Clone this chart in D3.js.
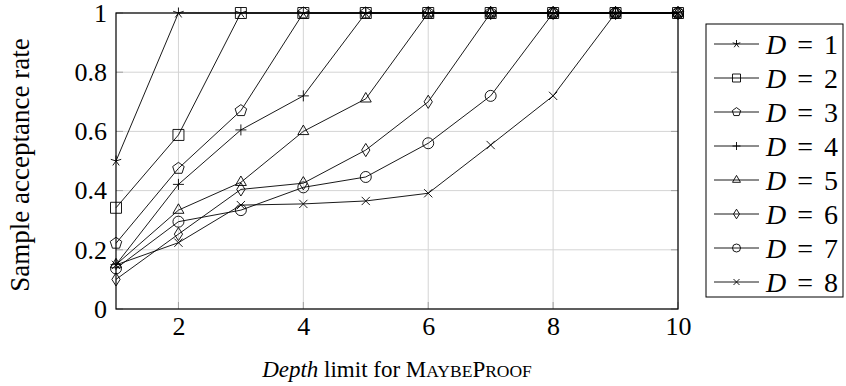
<!DOCTYPE html>
<html><head><meta charset="utf-8">
<script src="https://d3js.org/d3.v7.min.js"></script>
<style>body{margin:0;background:#fff}svg{display:block}</style>
</head><body>
<svg id="c" width="846" height="386"></svg>
<script>
const depthLimits = [1,2,3,4,5,6,7,8,9,10];
const seriesNames = ["D = 1","D = 2","D = 3","D = 4","D = 5","D = 6","D = 7","D = 8"];
const markers = ["star","square","pentagon","plus","triangle","diamond","circle","cross"];
const d1 = [0.50,1,1,1,1,1,1,1,1,1];
const d2 = [0.342,0.588,1,1,1,1,1,1,1,1];
const d3v = [0.222,0.475,0.67,1,1,1,1,1,1,1];
const d4 = [0.150,0.421,0.605,0.72,1,1,1,1,1,1];
const d5 = [0.150,0.334,0.428,0.60,0.71,1,1,1,1,1];
const d6 = [0.100,0.253,0.404,0.425,0.537,0.70,1,1,1,1];
const d7 = [0.137,0.295,0.334,0.411,0.446,0.56,0.72,1,1,1];
const d8 = [0.149,0.224,0.351,0.355,0.365,0.391,0.554,0.72,1,1];
const seriesValues = [d1,d2,d3v,d4,d5,d6,d7,d8];
const xTicks = [2,4,6,8,10];
const yTicks = [0,0.2,0.4,0.6,0.8,1];
const yTickLabels = ["0","0.2","0.4","0.6","0.8","1"];

const FONT = '"Liberation Serif"';
const svg = d3.select("#c");
const L=116, R=678, T=13, B=309;
const x = d3.scaleLinear().domain([1,10]).range([L,R]);
const y = d3.scaleLinear().domain([0,1]).range([B,T]);

// grid
const g = svg.append("g");
g.selectAll(".gx").data(xTicks).enter().append("line")
  .attr("x1",d=>x(d)).attr("x2",d=>x(d)).attr("y1",T).attr("y2",B)
  .attr("stroke","#d4d4d4").attr("stroke-width",1);
g.selectAll(".gy").data(yTicks).enter().append("line")
  .attr("y1",d=>y(d)).attr("y2",d=>y(d)).attr("x1",L).attr("x2",R)
  .attr("stroke","#d4d4d4").attr("stroke-width",1);

// ticks inside (gray)
g.selectAll(".tx").data(xTicks).enter().append("line")
  .attr("x1",d=>x(d)).attr("x2",d=>x(d)).attr("y1",B).attr("y2",B-7)
  .attr("stroke","#a0a0a0").attr("stroke-width",1);
g.selectAll(".ty").data(yTicks).enter().append("line")
  .attr("y1",d=>y(d)).attr("y2",d=>y(d)).attr("x1",L).attr("x2",L+7)
  .attr("stroke","#a0a0a0").attr("stroke-width",1);
g.selectAll(".ty2").data(yTicks).enter().append("line")
  .attr("y1",d=>y(d)).attr("y2",d=>y(d)).attr("x1",R).attr("x2",R-7)
  .attr("stroke","#a0a0a0").attr("stroke-width",1);

// axes via d3 axis (labels only)
const xAxis = d3.axisBottom(x).tickValues(xTicks).tickSize(0).tickPadding(8).tickFormat(d=>String(d));
const yAxis = d3.axisLeft(y).tickValues(yTicks).tickSize(0).tickPadding(9).tickFormat((d,i)=>yTickLabels[i]);
const ax = svg.append("g").attr("transform",`translate(0,${B})`).call(xAxis);
const ay = svg.append("g").attr("transform",`translate(${L},0)`).call(yAxis);
[ax,ay].forEach(a=>{a.select(".domain").remove(); a.attr("font-family",null).attr("font-size",null);
  a.selectAll("text").style("font-family",FONT).style("font-size","26px").attr("fill","#000");});

// box
svg.append("rect").attr("x",L).attr("y",T).attr("width",R-L).attr("height",B-T)
  .attr("fill","none").attr("stroke","#000").attr("stroke-width",1.2);

// marker paths
function markerPath(type, r){
  const p = d3.path();
  if(type==="star"){
    for(let k=0;k<5;k++){const a=-Math.PI/2+k*2*Math.PI/5; p.moveTo(0,0); p.lineTo(r*Math.cos(a), r*Math.sin(a));}
  } else if(type==="square"){
    p.rect(-r,-r,2*r,2*r);
  } else if(type==="pentagon"){
    for(let k=0;k<5;k++){const a=-Math.PI/2+k*2*Math.PI/5; const px=r*1.1*Math.cos(a), py=r*1.1*Math.sin(a); if(k===0)p.moveTo(px,py); else p.lineTo(px,py);} p.closePath();
  } else if(type==="plus"){
    p.moveTo(-r,0);p.lineTo(r,0);p.moveTo(0,-r);p.lineTo(0,r);
  } else if(type==="triangle"){
    const rr=r*1.15;
    p.moveTo(0,-rr); p.lineTo(rr*0.866,rr*0.5); p.lineTo(-rr*0.866,rr*0.5); p.closePath();
  } else if(type==="diamond"){
    p.moveTo(0,-r*1.2);p.lineTo(r*0.75,0);p.lineTo(0,r*1.2);p.lineTo(-r*0.75,0);p.closePath();
  } else if(type==="circle"){
    p.arc(0,0,r,0,2*Math.PI);
  } else if(type==="cross"){
    const q=r*0.75; p.moveTo(-q,-q);p.lineTo(q,q);p.moveTo(-q,q);p.lineTo(q,-q);
  }
  return p.toString();
}

const line = d3.line().x((d,i)=>x(depthLimits[i])).y(d=>y(d));
seriesValues.forEach((vals,si)=>{
  svg.append("path").attr("d",line(vals)).attr("fill","none").attr("stroke","#000").attr("stroke-width",0.9);
});
seriesValues.forEach((vals,si)=>{
  svg.append("g").selectAll("path").data(vals).enter().append("path")
    .attr("transform",(d,i)=>`translate(${x(depthLimits[i])},${y(d)})`)
    .attr("d",markerPath(markers[si],5.5))
    .attr("fill","none").attr("stroke","#000").attr("stroke-width",0.9);
});

// legend
const lg = svg.append("g");
lg.append("rect").attr("x",706).attr("y",24).attr("width",137).attr("height",273)
  .attr("fill","#fff").attr("stroke","#000").attr("stroke-width",1);
seriesNames.forEach((n,i)=>{
  const yy = 44 + i*34;
  lg.append("line").attr("x1",714).attr("x2",759).attr("y1",yy).attr("y2",yy).attr("stroke","#000").attr("stroke-width",0.9);
  lg.append("path").attr("transform",`translate(736.5,${yy})`).attr("d",markerPath(markers[i],4))
    .attr("fill","none").attr("stroke","#000").attr("stroke-width",0.9);
  const parts = n.split(" = ");
  const t = lg.append("text").attr("x",766).attr("y",yy+10).style("font-family",FONT).style("font-size","28px");
  t.append("tspan").style("font-style","italic").text(parts[0]);
  t.append("tspan").attr("dx",11).text("=");
  t.append("tspan").attr("dx",11).text(parts[1]);
});

// axis titles
const xt = svg.append("text").attr("x",397).attr("y",377).attr("text-anchor","middle")
  .style("font-family",FONT).style("font-size","23px");
xt.append("tspan").style("font-style","italic").text("Depth");
xt.append("tspan").text(" limit for M");
xt.append("tspan").style("font-size","17.5px").text("AYBE");
xt.append("tspan").text("P");
xt.append("tspan").style("font-size","17.5px").text("ROOF");

svg.append("text").attr("transform","translate(29,165) rotate(-90)").attr("text-anchor","middle")
  .style("font-family",FONT).style("font-size","27px").text("Sample acceptance rate");
</script>
</body></html>
